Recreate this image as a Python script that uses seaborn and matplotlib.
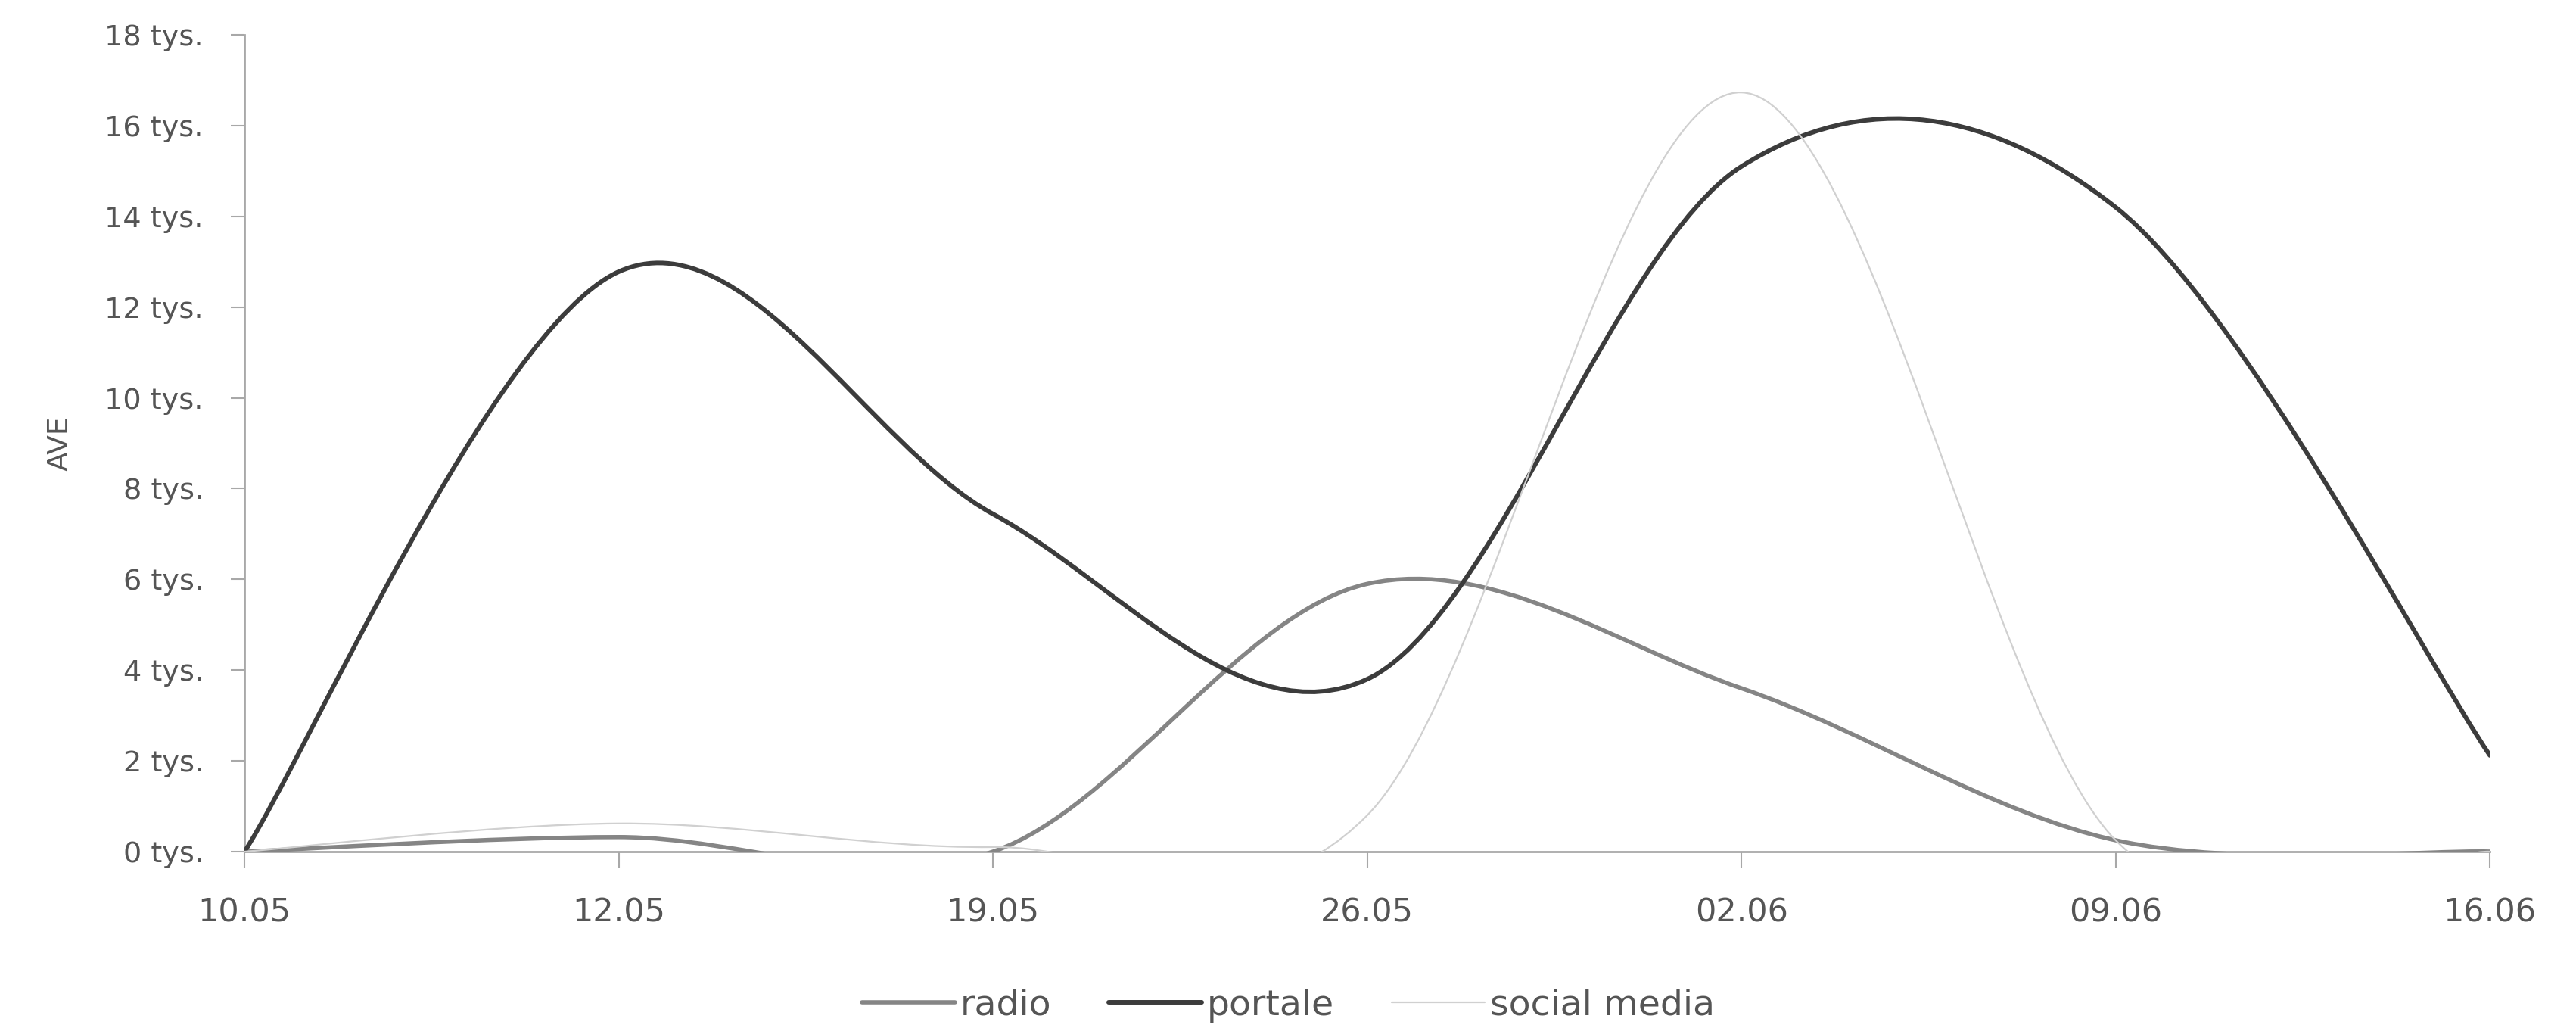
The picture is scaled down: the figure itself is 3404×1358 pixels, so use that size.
import numpy as np
import pandas as pd
import matplotlib
matplotlib.use('Agg')
import matplotlib.pyplot as plt
from matplotlib.path import Path
from matplotlib.patches import PathPatch
from matplotlib.lines import Line2D
from matplotlib.ticker import FuncFormatter
import seaborn as sns

# Values in thousands (tys.)
dates = ['10.05', '12.05', '19.05', '26.05', '02.06', '09.06', '16.06']
radio = [0, 0.32, 0, 5.9, 3.6, 0.25, 0]
portale = [0, 12.78, 7.44, 3.8, 15.1, 14.2, 2.12]
social_media = [0, 0.62, 0.1, 0.8, 16.73, 0.25, 0]

series_names = ['radio', 'portale', 'social media']
series_colors = ['#858585', '#3c3c3c', '#d0d0d0']
series_widths = [4.0, 4.3, 1.6]

df = pd.DataFrame({'date': dates, 'radio': radio, 'portale': portale,
                   'social media': social_media})
df['pos'] = np.arange(len(df))

sns.set_theme(style='white')
plt.rcParams['font.family'] = ['DejaVu Sans']


def smooth_path(x, y):
    # Excel-like smoothed line: Catmull-Rom segments drawn as cubic Bezier curves
    x = np.asarray(x, float)
    y = np.asarray(y, float)
    n = len(x)
    verts = [(x[0], y[0])]
    codes = [Path.MOVETO]
    for i in range(n - 1):
        i0 = max(i - 1, 0)
        i3 = min(i + 2, n - 1)
        c1 = (x[i] + (x[i + 1] - x[i0]) / 6, y[i] + (y[i + 1] - y[i0]) / 6)
        c2 = (x[i + 1] - (x[i3] - x[i]) / 6, y[i + 1] - (y[i3] - y[i]) / 6)
        verts += [c1, c2, (x[i + 1], y[i + 1])]
        codes += [Path.CURVE4] * 3
    return Path(verts, codes)


fig = plt.figure(figsize=(34.05, 13.58), dpi=100)
ax = fig.add_axes([0.0949, 0.1716, 0.8714, 0.7945])

for name, color, lw in zip(series_names, series_colors, series_widths):
    patch = PathPatch(smooth_path(df['pos'], df[name]), facecolor='none',
                      edgecolor=color, lw=lw, capstyle='round', zorder=3)
    ax.add_patch(patch)

ax.set_xlim(0, len(dates) - 1)
ax.set_ylim(0, 18)
ax.set_xticks(df['pos'])
ax.set_xticklabels(dates)
ax.set_yticks(np.arange(0, 19, 2))
ax.yaxis.set_major_formatter(FuncFormatter(lambda v, p: f'{int(v)} tys.'))

sns.despine(ax=ax)
for side in ['left', 'bottom']:
    ax.spines[side].set_color('#a8a8a8')
    ax.spines[side].set_linewidth(2)
    ax.spines[side].set_zorder(1)

ax.tick_params(axis='y', which='major', length=13, width=1.5, color='#a8a8a8',
               pad=26, labelsize=27.5, labelcolor='#555555', left=True)
ax.tick_params(axis='x', which='major', length=15, width=1.5, color='#a8a8a8',
               pad=28, labelsize=31, labelcolor='#555555', bottom=True)

ax.set_ylabel('AVE', fontsize=27, color='#555555')
ax.yaxis.set_label_coords(-0.076, 0.5)

handles = [Line2D([], [], color=c, lw=lw) for c, lw in zip(series_colors, series_widths)]
fig.legend(handles, series_names, loc='center', bbox_to_anchor=(0.5, 0.022),
           ncol=3, frameon=False, fontsize=34, handlelength=2.6,
           handletextpad=0.15, columnspacing=1.6, labelcolor='#555555')

fig.savefig('out.png', dpi=100, facecolor='white')
